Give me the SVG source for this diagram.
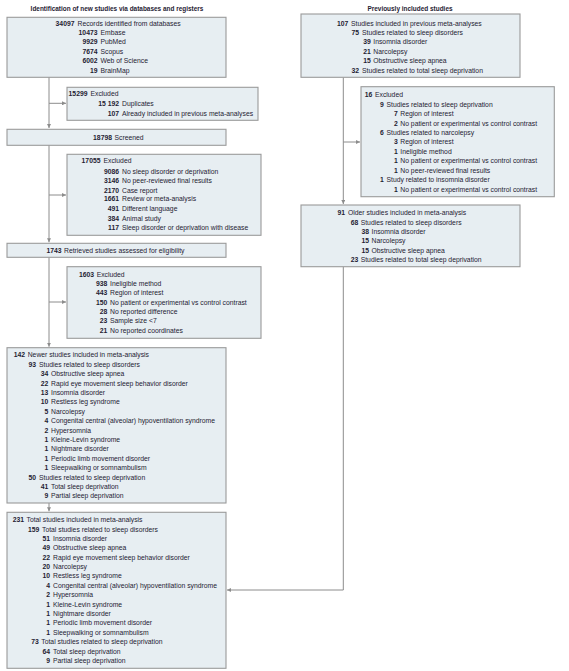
<svg xmlns="http://www.w3.org/2000/svg" width="569" height="671" viewBox="0 0 569 671">
<style>
.box{fill:#e7eef2;stroke:#9a9a9a;stroke-width:1.1}
.n{font-family:"Liberation Sans",Arial,sans-serif;font-size:6.8px;font-weight:bold;fill:#1f2233;text-anchor:end}
.l{font-family:"Liberation Sans",Arial,sans-serif;font-size:6.8px;fill:#1f2233}
.t{font-family:"Liberation Sans",Arial,sans-serif;font-size:6.45px;font-weight:bold;fill:#1f2233;text-anchor:middle}
.c{fill:none;stroke:#8c8c8c;stroke-width:1}
</style>
<defs>
<marker id="ah" viewBox="0 0 6 6" refX="6" refY="3" markerWidth="4" markerHeight="4" orient="auto" markerUnits="userSpaceOnUse">
<path d="M0,0 L6,3 L0,6 z" fill="#8c8c8c"/>
</marker>
</defs>
<rect width="569" height="671" fill="#ffffff"/>
<text class="t" x="117" y="10.6">Identification of new studies via databases and registers</text>
<text class="t" x="410" y="10.6">Previously included studies</text>

<g id="connectors">
<path class="c" d="M49,77 V128" marker-end="url(#ah)"/>
<path class="c" d="M49,103.3 H66" marker-end="url(#ah)"/>
<path class="c" d="M49,145 V242.3" marker-end="url(#ah)"/>
<path class="c" d="M49,195 H66" marker-end="url(#ah)"/>
<path class="c" d="M49,257.3 V346.7" marker-end="url(#ah)"/>
<path class="c" d="M49,302 H66" marker-end="url(#ah)"/>
<path class="c" d="M49,503 V511.3" marker-end="url(#ah)"/>
<path class="c" d="M343.3,77.3 V204" marker-end="url(#ah)"/>
<path class="c" d="M343.3,142 H360" marker-end="url(#ah)"/>
<path class="c" d="M343.3,266.7 V590 H227" marker-end="url(#ah)"/>
</g>

<g id="records">
<rect class="box" x="7" y="17.3" width="219" height="60"/>
<text class="n" x="74.5" y="26.4">34097</text><text class="l" x="77.5" y="26.4">Records identified from databases</text>
<text class="n" x="97.5" y="35.1">10473</text><text class="l" x="100.5" y="35.1">Embase</text>
<text class="n" x="97.5" y="44.1">9929</text><text class="l" x="100.5" y="44.1">PubMed</text>
<text class="n" x="97.5" y="54.1">7674</text><text class="l" x="100.5" y="54.1">Scopus</text>
<text class="n" x="97.5" y="62.7">6002</text><text class="l" x="100.5" y="62.7">Web of Science</text>
<text class="n" x="97.5" y="72.7">19</text><text class="l" x="100.5" y="72.7">BrainMap</text>
</g>

<g id="excluded1">
<rect class="box" x="67" y="87.3" width="191" height="33"/>
<text class="n" x="87.5" y="96.4">15299</text><text class="l" x="90.5" y="96.4">Excluded</text>
<text class="n" x="119" y="105.7">15 192</text><text class="l" x="122" y="105.7">Duplicates</text>
<text class="n" x="119" y="115.7">107</text><text class="l" x="122" y="115.7">Already included in previous meta-analyses</text>
</g>

<g id="screened">
<rect class="box" x="7" y="129.3" width="219" height="16"/>
<text class="n" x="112" y="140.1">18798</text><text class="l" x="114.5" y="140.1">Screened</text>
</g>

<g id="excluded2">
<rect class="box" x="67" y="154.3" width="194" height="81"/>
<text class="n" x="100.5" y="163.4">17055</text><text class="l" x="103.5" y="163.4">Excluded</text>
<text class="n" x="119" y="174.1">9086</text><text class="l" x="122" y="174.1">No sleep disorder or deprivation</text>
<text class="n" x="119" y="182.7">3146</text><text class="l" x="122" y="182.7">No peer-reviewed final results</text>
<text class="n" x="119" y="192.7">2170</text><text class="l" x="122" y="192.7">Case report</text>
<text class="n" x="119" y="201.4">1661</text><text class="l" x="122" y="201.4">Review or meta-analysis</text>
<text class="n" x="119" y="210.7">491</text><text class="l" x="122" y="210.7">Different language</text>
<text class="n" x="119" y="220.7">384</text><text class="l" x="122" y="220.7">Animal study</text>
<text class="n" x="119" y="229.7">117</text><text class="l" x="122" y="229.7">Sleep disorder or deprivation with disease</text>
</g>

<g id="retrieved">
<rect class="box" x="7" y="243.3" width="219" height="14"/>
<text class="n" x="61.5" y="253.1">1743</text><text class="l" x="64" y="253.1">Retrieved studies assessed for eligibility</text>
</g>

<g id="excluded3">
<rect class="box" x="67" y="266.7" width="194" height="71.6"/>
<text class="n" x="94" y="276.7">1603</text><text class="l" x="96.7" y="276.7">Excluded</text>
<text class="n" x="107.3" y="285.7">938</text><text class="l" x="110" y="285.7">Ineligible method</text>
<text class="n" x="107.3" y="295.4">443</text><text class="l" x="110" y="295.4">Region of interest</text>
<text class="n" x="107.3" y="304.7">150</text><text class="l" x="110" y="304.7">No patient or experimental vs control contrast</text>
<text class="n" x="107.3" y="314.1">28</text><text class="l" x="110" y="314.1">No reported difference</text>
<text class="n" x="107.3" y="323.4">23</text><text class="l" x="110" y="323.4">Sample size &lt;7</text>
<text class="n" x="107.3" y="332.7">21</text><text class="l" x="110" y="332.7">No reported coordinates</text>
</g>

<g id="newer">
<rect class="box" x="7" y="347.7" width="219" height="155.3"/>
<text class="n" x="25" y="356.7">142</text><text class="l" x="27.7" y="356.7">Newer studies included in meta-analysis</text>
<text class="n" x="36" y="366.7">93</text><text class="l" x="39" y="366.7">Studies related to sleep disorders</text>
<text class="n" x="48.3" y="376.1">34</text><text class="l" x="51" y="376.1">Obstructive sleep apnea</text>
<text class="n" x="48.3" y="385.7">22</text><text class="l" x="51" y="385.7">Rapid eye movement sleep behavior disorder</text>
<text class="n" x="48.3" y="394.7">13</text><text class="l" x="51" y="394.7">Insomnia disorder</text>
<text class="n" x="48.3" y="403.7">10</text><text class="l" x="51" y="403.7">Restless leg syndrome</text>
<text class="n" x="48.3" y="413.7">5</text><text class="l" x="51" y="413.7">Narcolepsy</text>
<text class="n" x="48.3" y="423.1">4</text><text class="l" x="51" y="423.1">Congenital central (alveolar) hypoventilation syndrome</text>
<text class="n" x="48.3" y="432.7">2</text><text class="l" x="51" y="432.7">Hypersomnia</text>
<text class="n" x="48.3" y="441.7">1</text><text class="l" x="51" y="441.7">Kleine-Levin syndrome</text>
<text class="n" x="48.3" y="451.1">1</text><text class="l" x="51" y="451.1">Nightmare disorder</text>
<text class="n" x="48.3" y="460.7">1</text><text class="l" x="51" y="460.7">Periodic limb movement disorder</text>
<text class="n" x="48.3" y="470.1">1</text><text class="l" x="51" y="470.1">Sleepwalking or somnambulism</text>
<text class="n" x="36" y="479.7">50</text><text class="l" x="39" y="479.7">Studies related to sleep deprivation</text>
<text class="n" x="48.3" y="489.1">41</text><text class="l" x="51" y="489.1">Total sleep deprivation</text>
<text class="n" x="48.3" y="498.1">9</text><text class="l" x="51" y="498.1">Partial sleep deprivation</text>
</g>

<g id="total">
<rect class="box" x="7" y="512.3" width="219" height="156"/>
<text class="n" x="24" y="522.4">231</text><text class="l" x="26.5" y="522.4">Total studies included in meta-analysis</text>
<text class="n" x="39.3" y="531.7">159</text><text class="l" x="42" y="531.7">Total studies related to sleep disorders</text>
<text class="n" x="50" y="540.7">51</text><text class="l" x="53" y="540.7">Insomnia disorder</text>
<text class="n" x="50" y="550.4">49</text><text class="l" x="53" y="550.4">Obstructive sleep apnea</text>
<text class="n" x="50" y="559.7">22</text><text class="l" x="53" y="559.7">Rapid eye movement sleep behavior disorder</text>
<text class="n" x="50" y="569.4">20</text><text class="l" x="53" y="569.4">Narcolepsy</text>
<text class="n" x="50" y="578.4">10</text><text class="l" x="53" y="578.4">Restless leg syndrome</text>
<text class="n" x="50" y="587.7">4</text><text class="l" x="53" y="587.7">Congenital central (alveolar) hypoventilation syndrome</text>
<text class="n" x="50" y="597.4">2</text><text class="l" x="53" y="597.4">Hypersomnia</text>
<text class="n" x="50" y="606.7">1</text><text class="l" x="53" y="606.7">Kleine-Levin syndrome</text>
<text class="n" x="50" y="616.1">1</text><text class="l" x="53" y="616.1">Nightmare disorder</text>
<text class="n" x="50" y="625.4">1</text><text class="l" x="53" y="625.4">Periodic limb movement disorder</text>
<text class="n" x="50" y="634.7">1</text><text class="l" x="53" y="634.7">Sleepwalking or somnambulism</text>
<text class="n" x="38.7" y="644.4">73</text><text class="l" x="41.3" y="644.4">Total studies related to sleep deprivation</text>
<text class="n" x="50" y="653.7">64</text><text class="l" x="53" y="653.7">Total sleep deprivation</text>
<text class="n" x="50" y="663.1">9</text><text class="l" x="53" y="663.1">Partial sleep deprivation</text>
</g>

<g id="previous">
<rect class="box" x="301" y="14" width="219" height="63.3"/>
<text class="n" x="348.3" y="26.1">107</text><text class="l" x="351" y="26.1">Studies included in previous meta-analyses</text>
<text class="n" x="359" y="35.1">75</text><text class="l" x="362" y="35.1">Studies related to sleep disorders</text>
<text class="n" x="370.7" y="44.4">39</text><text class="l" x="373.3" y="44.4">Insomnia disorder</text>
<text class="n" x="370.7" y="54.1">21</text><text class="l" x="373.3" y="54.1">Narcolepsy</text>
<text class="n" x="370.7" y="62.7">15</text><text class="l" x="373.3" y="62.7">Obstructive sleep apnea</text>
<text class="n" x="359" y="72.7">32</text><text class="l" x="362" y="72.7">Studies related to total sleep deprivation</text>
</g>

<g id="excluded-previous">
<rect class="box" x="361" y="86.7" width="193.3" height="110"/>
<text class="n" x="372.3" y="97.4">16</text><text class="l" x="375" y="97.4">Excluded</text>
<text class="n" x="383.7" y="107.1">9</text><text class="l" x="386.5" y="107.1">Studies related to sleep deprivation</text>
<text class="n" x="397.7" y="116.4">7</text><text class="l" x="400.3" y="116.4">Region of interest</text>
<text class="n" x="397.7" y="125.7">2</text><text class="l" x="400.3" y="125.7">No patient or experimental vs control contrast</text>
<text class="n" x="383.7" y="135.1">6</text><text class="l" x="386.5" y="135.1">Studies related to narcolepsy</text>
<text class="n" x="397.7" y="144.4">3</text><text class="l" x="400.3" y="144.4">Region of interest</text>
<text class="n" x="397.7" y="153.7">1</text><text class="l" x="400.3" y="153.7">Ineligible method</text>
<text class="n" x="397.7" y="163.4">1</text><text class="l" x="400.3" y="163.4">No patient or experimental vs control contrast</text>
<text class="n" x="397.7" y="172.7">1</text><text class="l" x="400.3" y="172.7">No peer-reviewed final results</text>
<text class="n" x="383.7" y="182.4">1</text><text class="l" x="386.5" y="182.4">Study related to insomnia disorder</text>
<text class="n" x="397.7" y="191.7">1</text><text class="l" x="400.3" y="191.7">No patient or experimental vs control contrast</text>
</g>

<g id="older">
<rect class="box" x="301" y="205" width="219" height="61.7"/>
<text class="n" x="345" y="215.1">91</text><text class="l" x="348" y="215.1">Older studies included in meta-analysis</text>
<text class="n" x="358.3" y="225.1">68</text><text class="l" x="360.7" y="225.1">Studies related to sleep disorders</text>
<text class="n" x="369" y="234.4">38</text><text class="l" x="371.5" y="234.4">Insomnia disorder</text>
<text class="n" x="369" y="243.4">15</text><text class="l" x="371.5" y="243.4">Narcolepsy</text>
<text class="n" x="369" y="253.1">15</text><text class="l" x="371.5" y="253.1">Obstructive sleep apnea</text>
<text class="n" x="358.3" y="262.4">23</text><text class="l" x="360.7" y="262.4">Studies related to total sleep deprivation</text>
</g>
</svg>
